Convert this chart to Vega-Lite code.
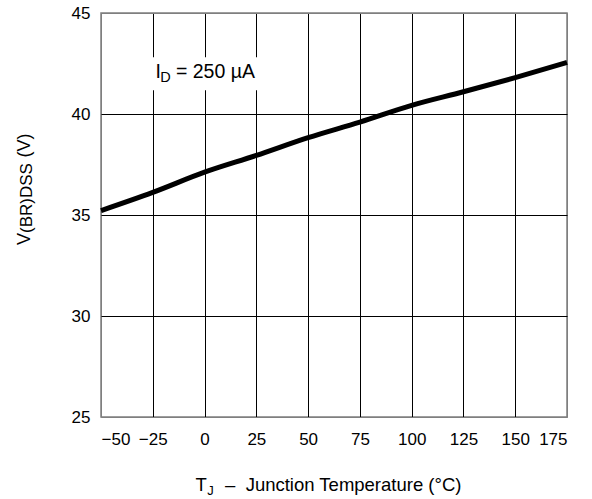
{
  "$schema": "https://vega.github.io/schema/vega-lite/v6.json",
  "width": 466,
  "height": 404,
  "autosize": "none",
  "padding": {"left": 101, "top": 13, "right": 25, "bottom": 82},
  "background": "white",
  "config": {
    "font": "Liberation Sans",
    "view": {"stroke": "#7f7f7f", "strokeWidth": 1.5},
    "axis": {
      "domain": false,
      "ticks": false,
      "grid": true,
      "gridWidth": 1,
      "labelFont": "Liberation Sans",
      "labelFontSize": 17,
      "labelColor": "black",
      "title": null
    }
  },
  "layer": [
    {
      "data": {"values": [
        {"temp": -50, "v": 35.22},
        {"temp": -25, "v": 36.12},
        {"temp": 0, "v": 37.12},
        {"temp": 25, "v": 37.95},
        {"temp": 50, "v": 38.83},
        {"temp": 75, "v": 39.6},
        {"temp": 100, "v": 40.43},
        {"temp": 125, "v": 41.1},
        {"temp": 150, "v": 41.8},
        {"temp": 175, "v": 42.55}
      ]},
      "mark": {"type": "line", "color": "black", "strokeWidth": 5, "interpolate": "monotone"},
      "encoding": {
        "x": {
          "field": "temp", "type": "quantitative",
          "scale": {"domain": [-50, 175], "nice": false, "zero": false},
          "axis": {
            "values": [-50, -25, 0, 25, 50, 75, 100, 125, 150, 175],
            "labelPadding": 14,
            "gridColor": {"condition": {"test": "datum.value == -50 || datum.value == 175", "value": "#7f7f7f"}, "value": "black"}
          }
        },
        "y": {
          "field": "v", "type": "quantitative",
          "scale": {"domain": [25, 45], "nice": false, "zero": false},
          "axis": {
            "values": [25, 30, 35, 40, 45],
            "labelPadding": 11,
            "gridColor": {"condition": {"test": "datum.value == 25 || datum.value == 45", "value": "#7f7f7f"}, "value": "black"}
          }
        }
      }
    },
    {
      "data": {"values": [{}]},
      "mark": {"type": "rect", "color": "white"},
      "encoding": {
        "x": {"datum": -40}, "x2": {"datum": 40},
        "y": {"datum": 41.17}, "y2": {"datum": 42.81}
      }
    },
    {
      "data": {"values": [{}]},
      "mark": {"type": "text", "align": "left", "baseline": "alphabetic", "fontSize": 19.5, "color": "black"},
      "encoding": {"x": {"datum": -23.69}, "y": {"datum": 41.76}, "text": {"value": "I"}}
    },
    {
      "data": {"values": [{}]},
      "mark": {"type": "text", "align": "left", "baseline": "alphabetic", "fontSize": 14.5, "color": "black"},
      "encoding": {"x": {"datum": -21.4}, "y": {"datum": 41.58}, "text": {"value": "D"}}
    },
    {
      "data": {"values": [{}]},
      "mark": {"type": "text", "align": "left", "baseline": "alphabetic", "fontSize": 19.5, "color": "black"},
      "encoding": {"x": {"datum": -13.8}, "y": {"datum": 41.76}, "text": {"value": "= 250 µA"}}
    },
    {
      "data": {"values": [{}]},
      "mark": {"type": "text", "align": "left", "baseline": "alphabetic", "fontSize": 18.5, "color": "black"},
      "encoding": {"x": {"datum": -4.37}, "y": {"datum": 21.34}, "text": {"value": "T"}}
    },
    {
      "data": {"values": [{}]},
      "mark": {"type": "text", "align": "left", "baseline": "alphabetic", "fontSize": 13, "color": "black"},
      "encoding": {"x": {"datum": 1.3}, "y": {"datum": 21.15}, "text": {"value": "J"}}
    },
    {
      "data": {"values": [{}]},
      "mark": {"type": "text", "align": "left", "baseline": "alphabetic", "fontSize": 18.5, "color": "black"},
      "encoding": {"x": {"datum": 9.9}, "y": {"datum": 21.34}, "text": {"value": "–\u00a0\u00a0Junction Temperature (°C)"}}
    },
    {
      "data": {"values": [{}]},
      "mark": {"type": "text", "align": "left", "baseline": "alphabetic", "angle": 270, "fontSize": 18, "color": "black"},
      "encoding": {"x": {"datum": -84.28}, "y": {"datum": 33.51}, "text": {"value": "V"}}
    },
    {
      "data": {"values": [{}]},
      "mark": {"type": "text", "align": "left", "baseline": "alphabetic", "angle": 270, "fontSize": 17, "color": "black"},
      "encoding": {"x": {"datum": -83.3}, "y": {"datum": 34.11}, "text": {"value": "(BR)DSS"}}
    },
    {
      "data": {"values": [{}]},
      "mark": {"type": "text", "align": "left", "baseline": "alphabetic", "angle": 270, "fontSize": 18, "color": "black"},
      "encoding": {"x": {"datum": -84.28}, "y": {"datum": 37.85}, "text": {"value": "(V)"}}
    }
  ]
}
